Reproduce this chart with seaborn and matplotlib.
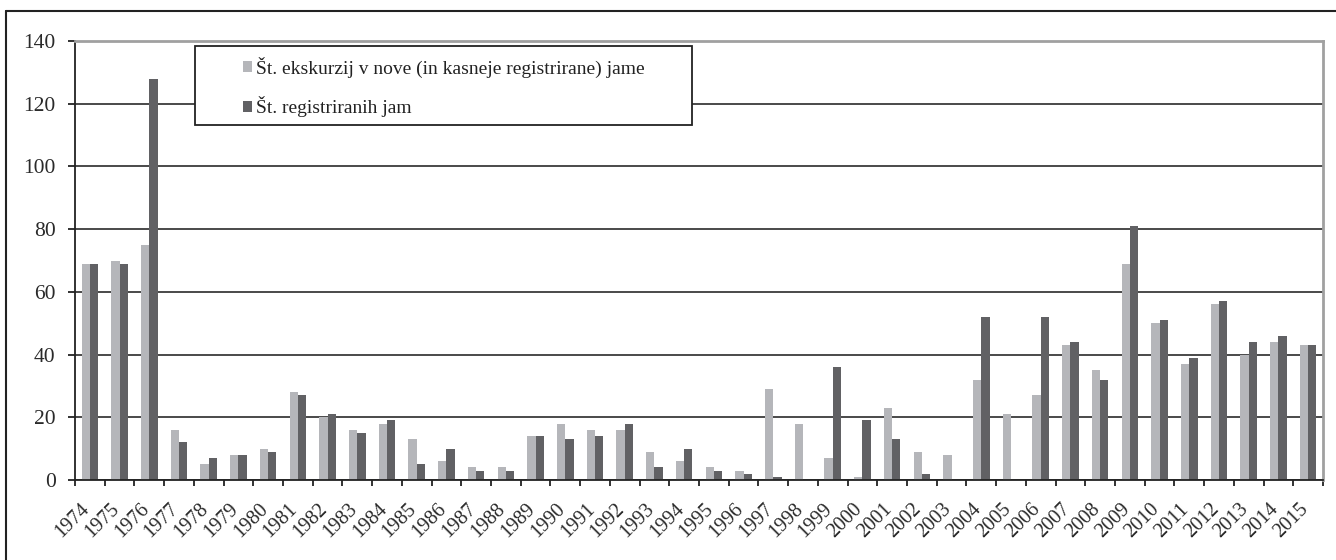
import matplotlib
matplotlib.use("Agg")
import matplotlib.pyplot as plt
import matplotlib.transforms as mtransforms
import seaborn as sns
import pandas as pd
import numpy as np
from matplotlib.patches import Rectangle
from matplotlib.lines import Line2D

years = [str(y) for y in range(1974, 2016)]
ekskurzije = [69, 70, 75, 16, 5, 8, 10, 28, 20, 16, 18, 13, 6, 4, 4, 14, 18, 16, 16, 9, 6,
              4, 3, 29, 18, 7, 1, 23, 9, 8, 32, 21, 27, 43, 35, 69, 50, 37, 56, 40, 44, 43]
registrirane = [69, 69, 128, 12, 7, 8, 9, 27, 21, 15, 19, 5, 10, 3, 3, 14, 13, 14, 18, 4, 10,
                3, 2, 1, 0, 36, 19, 13, 2, 0, 52, 0, 52, 44, 32, 81, 51, 39, 57, 44, 46, 43]
series_names = ["Št. ekskurzij v nove (in kasneje registrirane) jame", "Št. registriranih jam"]
y_ticks = [0, 20, 40, 60, 80, 100, 120, 140]

df = pd.DataFrame({
    "leto": years * 2,
    "vrednost": ekskurzije + registrirane,
    "serija": [series_names[0]] * len(years) + [series_names[1]] * len(years),
})

sns.set_style("white")
plt.rcParams["font.family"] = ["Liberation Serif", "DejaVu Serif"]

fig = plt.figure(figsize=(13.36, 5.6), dpi=100)
ax = fig.add_axes([75 / 1336, 1 - 480 / 560, (1323 - 75) / 1336, (480 - 41) / 560])

palette = {series_names[0]: "#b5b6ba", series_names[1]: "#616164"}
sns.barplot(data=df, x="leto", y="vrednost", hue="serija", order=years,
            hue_order=series_names, palette=palette, width=0.56, gap=0,
            saturation=1, linewidth=0, ax=ax, legend=False)

ax.set_xlim(-0.5, len(years) - 0.5)
ax.set_ylim(0, 140)
ax.set_yticks(y_ticks)
ax.set_xlabel("")
ax.set_ylabel("")

# gridlines
ax.yaxis.grid(True, color="#3a3a3a", linewidth=1.3)
ax.set_axisbelow(True)

for s in ["top", "right"]:
    ax.spines[s].set_color("#a0a0a0")
    ax.spines[s].set_linewidth(2)
for s in ["left", "bottom"]:
    ax.spines[s].set_color("#222222")
    ax.spines[s].set_linewidth(1.3)

ax.tick_params(axis="y", direction="out", length=5, width=1.3, color="#222222",
               labelsize=15.5, labelcolor="#2a2a2a", pad=9, left=True)
ax.set_xticks(range(len(years)))
ax.set_xticklabels(years)
ax.tick_params(axis="x", which="major", length=0, labelsize=14.5, labelcolor="#2a2a2a", pad=19)
ax.set_xticks(np.arange(-0.5, len(years)), minor=True)
ax.tick_params(axis="x", which="minor", direction="out", length=4.5, width=1.3,
               color="#222222", bottom=True)
shift = mtransforms.ScaledTranslation(-3 / 100, 0, fig.dpi_scale_trans)
for lab in ax.get_xticklabels():
    lab.set_rotation(45)
    lab.set_ha("right")
    lab.set_va("center")
    lab.set_rotation_mode("anchor")
    lab.set_transform(lab.get_transform() + shift)

# legend box
fig_w, fig_h = 1336, 560
box = Rectangle((195 / fig_w, 1 - 125 / fig_h), (692 - 195) / fig_w, (125 - 46) / fig_h,
                transform=fig.transFigure, facecolor="white", edgecolor="#222222",
                linewidth=1.3, zorder=5)
fig.patches.append(box)
handles = [Rectangle((0, 0), 1, 1, facecolor=palette[n], edgecolor="none") for n in series_names]
leg = fig.legend(handles, series_names, loc="upper left",
                 bbox_to_anchor=(229 / fig_w, 1 - 43 / fig_h), frameon=False,
                 fontsize=14, handlelength=0.48, handleheight=0.48, handletextpad=0.2,
                 labelspacing=0.95, borderpad=0.2)
for t in leg.get_texts():
    t.set_color("#222222")
leg.set_zorder(6)

# outer frame (top and left visible)
fig.add_artist(Line2D([6 / fig_w, 6 / fig_w], [0, 1 - 11 / fig_h], transform=fig.transFigure,
                      color="#222222", linewidth=1.5))
fig.add_artist(Line2D([6 / fig_w, 1], [1 - 11 / fig_h, 1 - 11 / fig_h], transform=fig.transFigure,
                      color="#222222", linewidth=1.5))

fig.savefig("out.png", dpi=100)
